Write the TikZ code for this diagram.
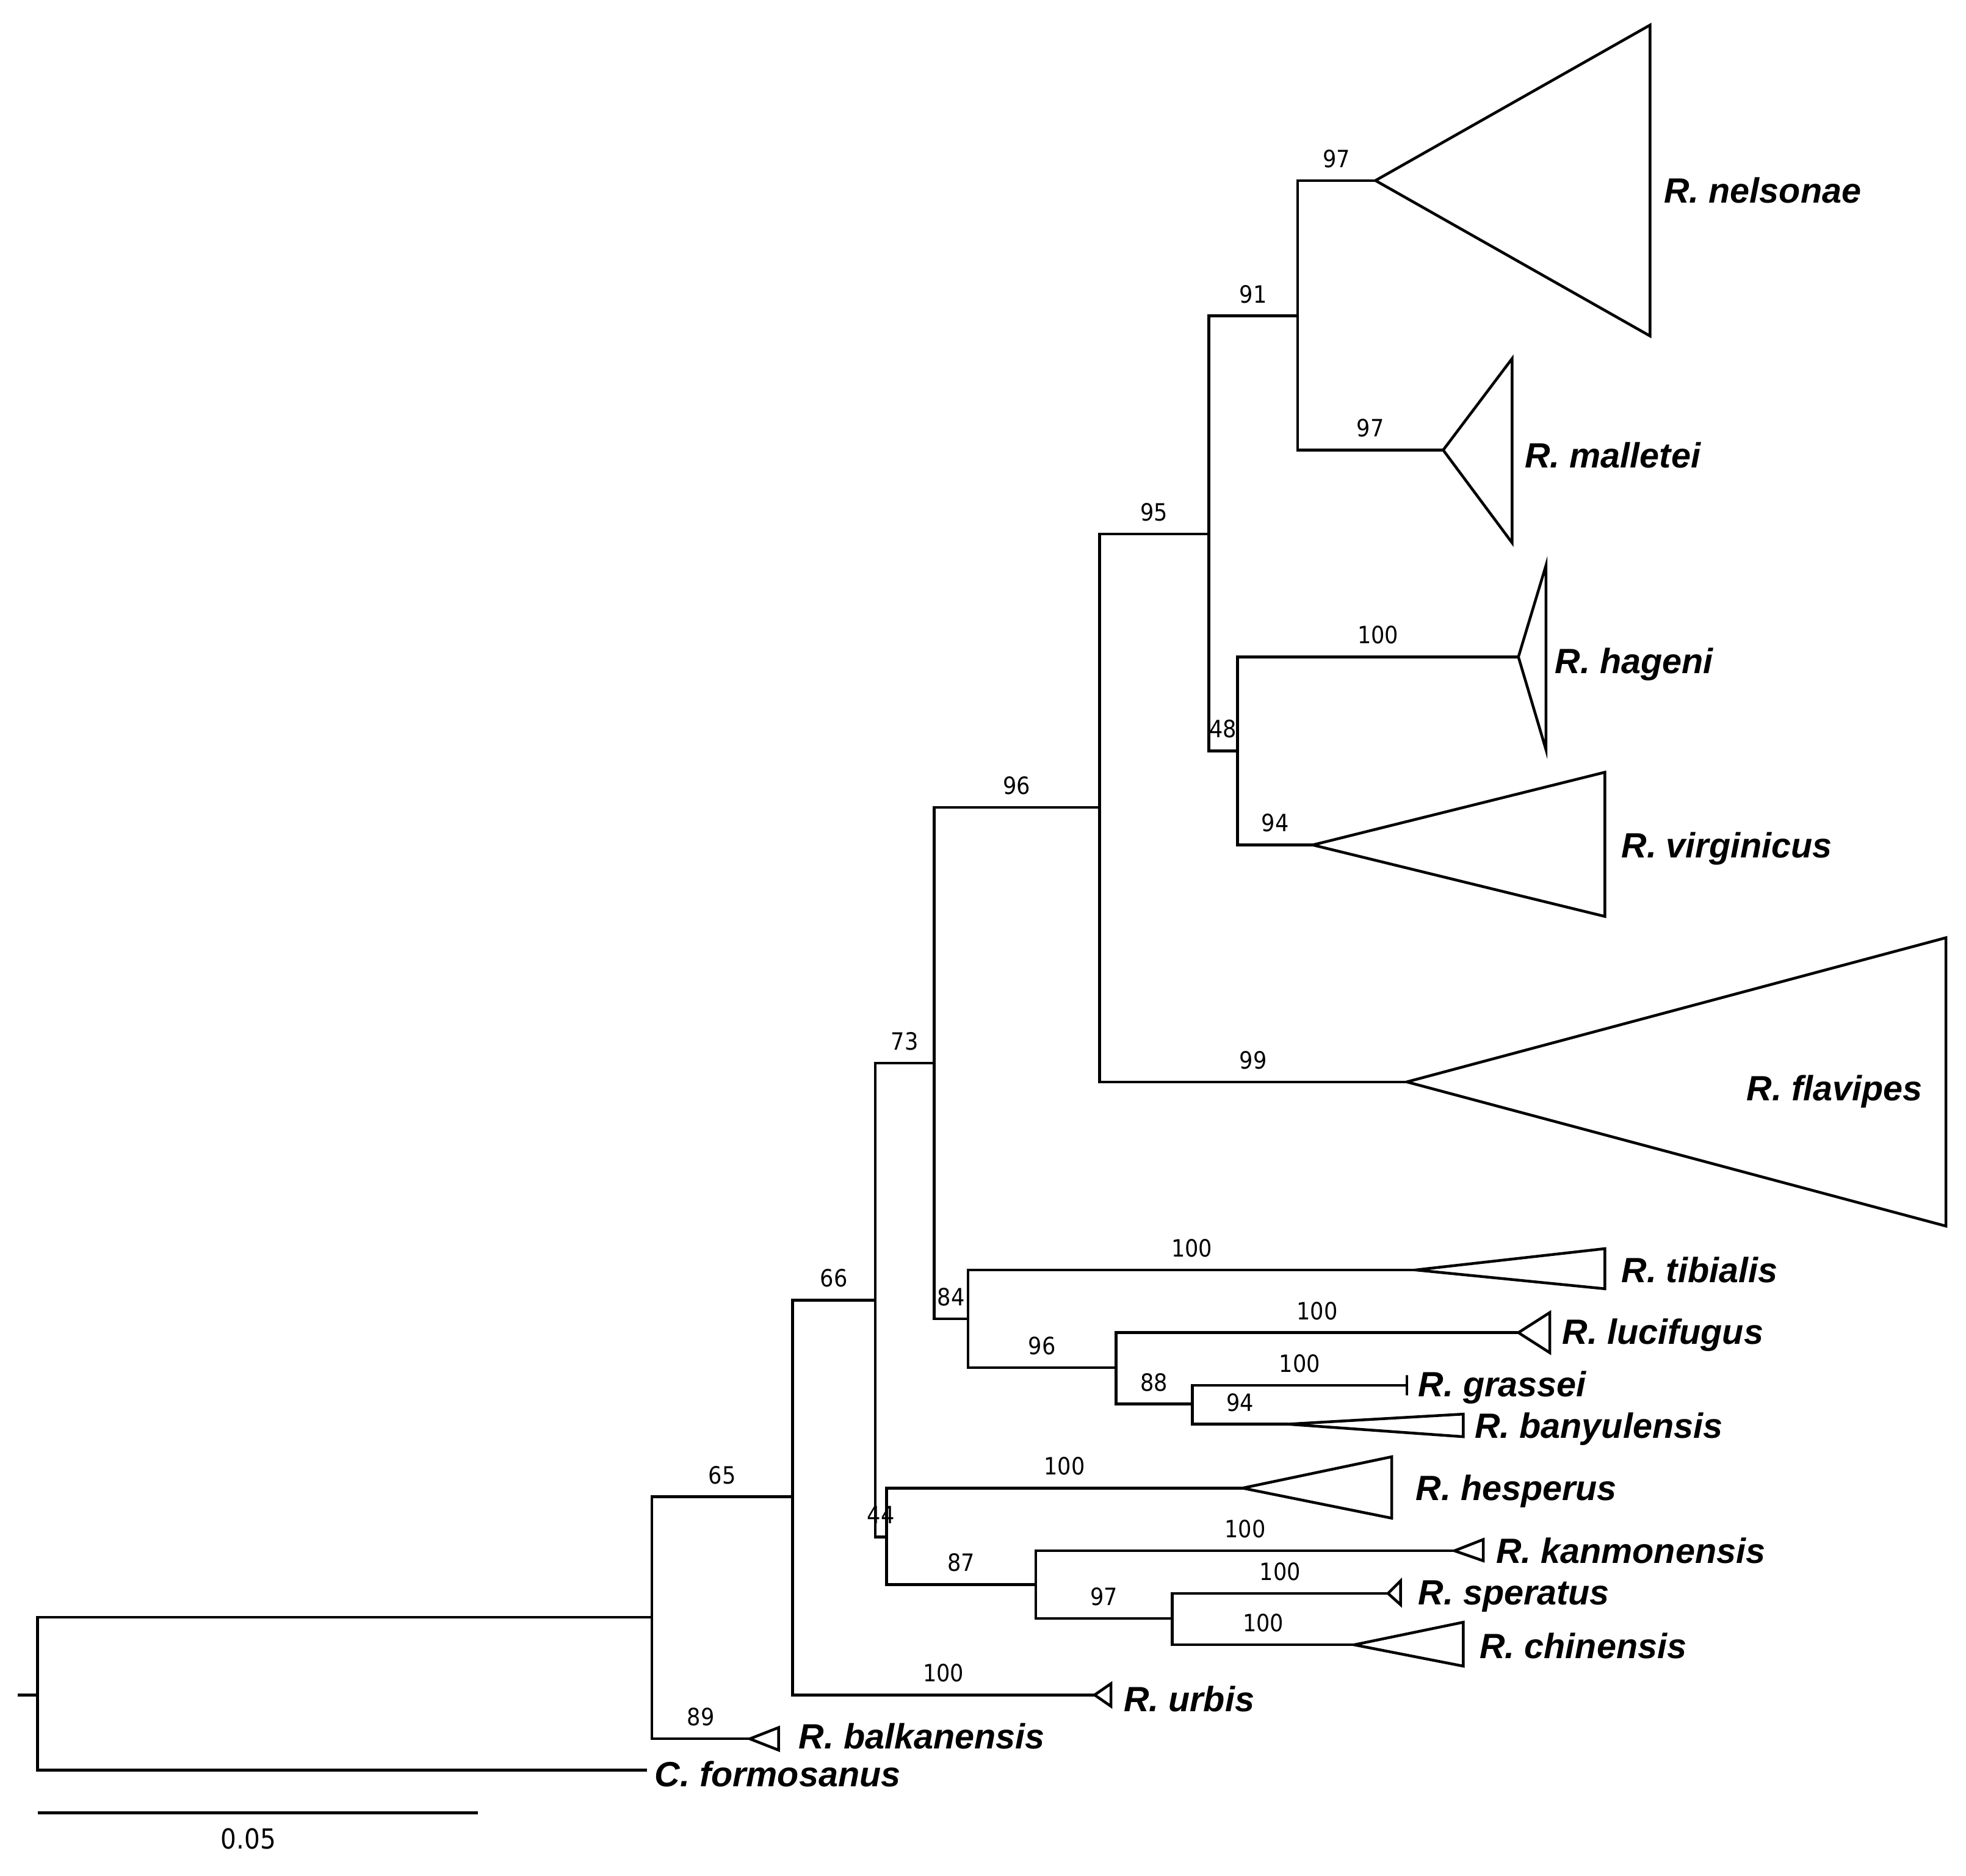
\documentclass[tikz,border=0pt]{standalone}
\usepackage{fontspec}
\setmainfont{Liberation Sans}
\newfontfamily\supfont[FakeStretch=0.9]{DejaVu Sans}
\colorlet{treeline}{black}

% collapsed clade: apex, right edge x, top y, bottom y
\newcommand{\Clade}[4]{\draw[branch] (#1) -- (#2,#3) -- (#2,#4) -- cycle;}

\begin{document}
\begin{tikzpicture}[x=1pt,y=-1pt]
\tikzset{branch/.style ={line width=2.2pt, color=treeline}}
\tikzset{support/.style ={font=\supfont\fontsize{19}{19}\selectfont, anchor=base, inner sep=0, yshift=10.5pt}}
\tikzset{taxon/.style ={font=\bfseries\itshape\fontsize{28}{28}\selectfont, anchor=base west, inner sep=0}}
\useasboundingbox (0,0) rectangle (1568,1496);
% internal nodes
\coordinate (stub) at (14,1352);
\coordinate (root) at (30,1352);
\coordinate (A) at (520,1290);
\coordinate (B) at (632,1194);
\coordinate (C) at (698,1037);
\coordinate (D) at (745,848);
\coordinate (E) at (707,1226);
\coordinate (G) at (877,644);
\coordinate (H) at (772,1052);
\coordinate (I) at (964,426);
\coordinate (J) at (1035,252);
\coordinate (K) at (987,599);
\coordinate (L) at (890,1091);
\coordinate (M) at (951,1120);
\coordinate (N) at (826,1264);
\coordinate (O) at (935,1291);
% tips
\coordinate (cfo) at (516,1412);
\coordinate (balk) at (598,1387);
\coordinate (urb) at (873,1352);
\coordinate (flav) at (1122,863);
\coordinate (nel) at (1097,144);
\coordinate (mal) at (1151,359);
\coordinate (hag) at (1211,524);
\coordinate (vir) at (1047,674);
\coordinate (tib) at (1129,1013);
\coordinate (luc) at (1211,1063);
\coordinate (gra) at (1122,1105);
\coordinate (ban) at (1027,1136);
\coordinate (hes) at (991,1187);
\coordinate (kan) at (1160,1237);
\coordinate (spe) at (1107,1271);
\coordinate (chi) at (1080,1312);
% branches
\draw[branch] (stub) -- (root);
\draw[branch] (root) |- (A);
\draw[branch] (root) |- (cfo);
\foreach \p/\c/\s in {A/B/65, A/balk/89, B/C/66, B/urb/100, C/D/73, C/E/44,
  D/G/96, D/H/84, G/I/95, G/flav/99, I/J/91, I/K/48, J/nel/97, J/mal/97,
  K/hag/100, K/vir/94, H/tib/100, H/L/96, L/luc/100, L/M/88, M/gra/100,
  M/ban/94, E/hes/100, E/N/87, N/kan/100, N/O/97, O/spe/100, O/chi/100}
  \draw[branch] (\p) |- (\c) node[support, pos=0.75] {\s};
% collapsed clades
\Clade{nel}{1316}{20}{268}
\Clade{mal}{1206}{286}{433}
\Clade{hag}{1233}{451}{598}
\Clade{vir}{1280}{616}{731}
\Clade{flav}{1552}{748}{978}
\Clade{tib}{1280}{996}{1028}
\Clade{luc}{1236}{1047}{1079}
\Clade{gra}{1122}{1097}{1113}
\Clade{ban}{1167}{1128}{1146}
\Clade{hes}{1110}{1162}{1211}
\Clade{kan}{1183}{1228}{1245}
\Clade{spe}{1117}{1261}{1280}
\Clade{chi}{1167}{1294}{1329}
\Clade{urb}{886}{1343}{1361}
\Clade{balk}{621}{1378}{1396}
% taxon names
\node[taxon] (tnel) at (1327,162) {R. nelsonae};
\node[taxon] (tmal) at (1216,373) {R. malletei};
\node[taxon] (thag) at (1240,537) {R. hageni};
\node[taxon] (tvir) at (1293,684) {R. virginicus};
\node[taxon] (tflav) at (1393,878) {R. flavipes};
\node[taxon] (ttib) at (1293,1023) {R. tibialis};
\node[taxon] (tluc) at (1246,1072) {R. lucifugus};
\node[taxon] (tgra) at (1131,1114) {R. grassei};
\node[taxon] (tban) at (1176,1147) {R. banyulensis};
\node[taxon] (thes) at (1129,1197) {R. hesperus};
\node[taxon] (tkan) at (1193,1247) {R. kanmonensis};
\node[taxon] (tspe) at (1131,1280) {R. speratus};
\node[taxon] (tchi) at (1180,1323) {R. chinensis};
\node[taxon] (turb) at (896,1365) {R. urbis};
\node[taxon] (tbalk) at (637,1395) {R. balkanensis};
\node[taxon] (tcfo) at (522,1425) {C. formosanus};
% scale bar
\coordinate (sbL) at (30,1446);
\coordinate (sbR) at (381,1446);
\draw[branch] (sbL) -- (sbR);
\node[font=\supfont\fontsize{22}{22}\selectfont, anchor=base, inner sep=0] (sbT) at (198,1475) {0.05};
\end{tikzpicture}
\end{document}
